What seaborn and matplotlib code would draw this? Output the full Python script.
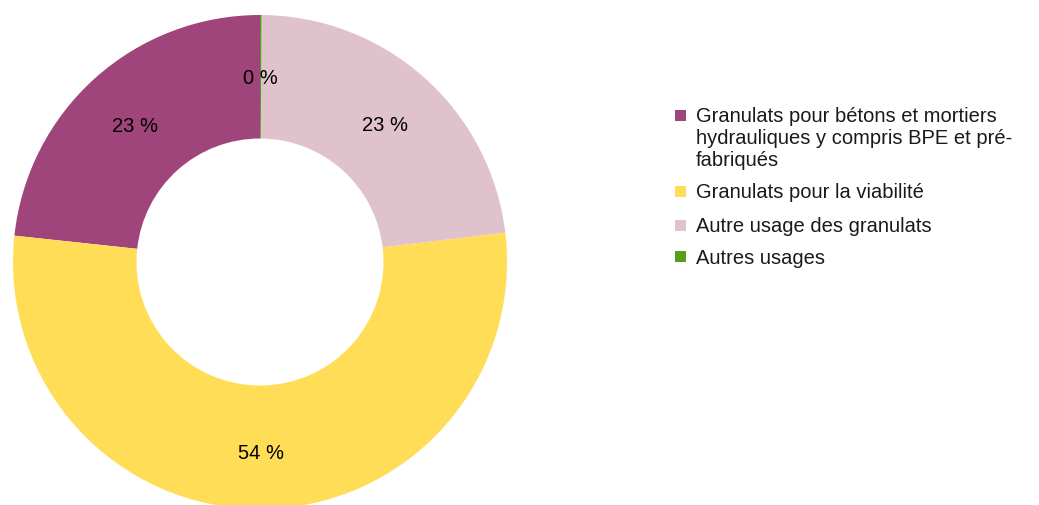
import matplotlib
matplotlib.use("Agg")
import matplotlib.pyplot as plt
import seaborn as sns
from matplotlib.patches import Rectangle

sns.set_theme(style="white")
plt.rcParams['font.family'] = ['Liberation Sans', 'DejaVu Sans']

categories = [
    "Granulats pour bétons et mortiers\nhydrauliques y compris BPE et pré-\nfabriqués",
    "Granulats pour la viabilité",
    "Autre usage des granulats",
    "Autres usages",
]
values = [23.3, 53.6, 23.0, 0.1]
colors = ["#A0457B", "#FFDD57", "#E0C2CD", "#579D1C"]

W, H = 1039, 506
fig = plt.figure(figsize=(W / 100, H / 100), dpi=100)
cx, cy, R = 260, 263, 247
ax = fig.add_axes([(cx - R) / W, (H - cy - R) / H, 2 * R / W, 2 * R / H])

wedges, texts = ax.pie(
    values, colors=colors, startangle=90, counterclock=True,
    radius=1.0, wedgeprops=dict(width=0.5, linewidth=0),
    labels=[f"{v:.0f} %" for v in values], labeldistance=0.76,
    textprops=dict(fontsize=14.5, color="#000000", ha="center", va="center"),
)
for t in texts:
    x, y = t.get_position()
    t.set_position((x, y - 0.012))
ax.set_xlim(-1, 1)
ax.set_ylim(-1, 1)
ax.set_aspect("auto")
ax.axis("off")

# legend
y_positions = [117, 193, 227, 258]
for lab, col, yp in zip(categories, colors, y_positions):
    fig.patches.append(Rectangle((675 / W, (H - yp - 5) / H), 11 / W, 11 / H,
                                 transform=fig.transFigure, facecolor=col, edgecolor="none"))
    lines = lab.split("\n")
    for i, line in enumerate(lines):
        fig.text(696 / W, (H - yp - 22 * i) / H, line, fontsize=14.5, va="center", ha="left",
                 color="#1a1a1a", fontstretch="expanded")

fig.savefig("out.png", dpi=100)
